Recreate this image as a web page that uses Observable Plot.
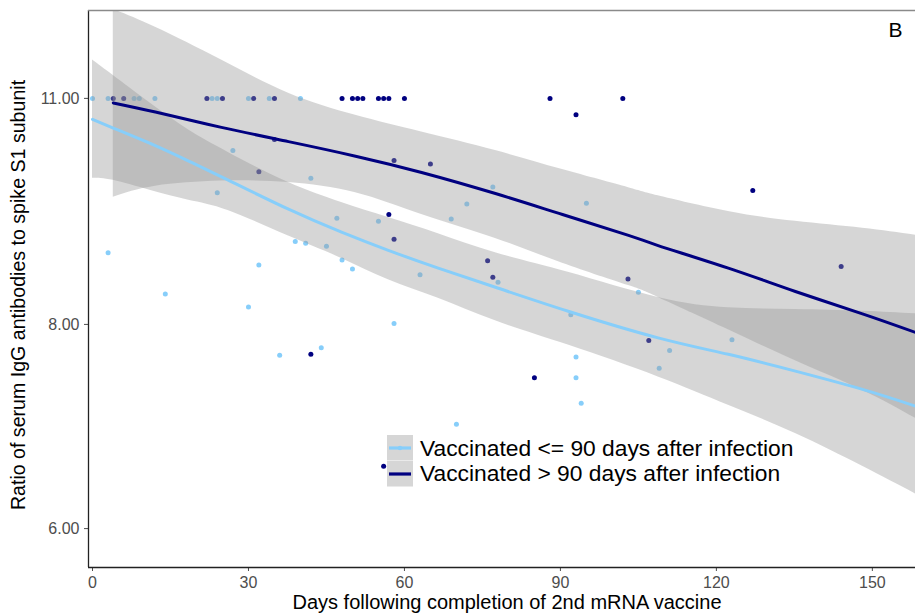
<!DOCTYPE html>
<html><head><meta charset="utf-8">
<script src="https://cdn.jsdelivr.net/npm/d3@7"></script>
<script src="https://cdn.jsdelivr.net/npm/@observablehq/plot@0.6"></script>
<style>body{margin:0;background:#fff} #chart{width:915px;height:614px}</style>
</head><body><div id="chart"></div>
<script>
// Series: Vaccinated <= 90 days after infection (light blue)
const lightDays   = [0,3,8,9,12,23,24,30,34,40, 3,14,24,27,30,32,36,39,41,42,44,45,47,48,50,55,58,63,69,70,72,77,78,92,93,93,94,95,105,109,111,123];
const lightValues = [11,11,11,11,11,11,11,11,11,11, 8.85,8.35,9.63,10.22,8.20,8.70,7.66,8.99,8.97,9.83,7.74,8.93,9.29,8.76,8.65,9.25,8.01,8.58,9.28,6.95,9.48,9.71,8.49,8.11,7.64,7.42,7.16,9.49,8.37,7.52,7.71,7.83];
// Series: Vaccinated > 90 days after infection (navy)
const darkDays   = [4,6,22,25,31,35,48,50,51,52,55,56,57,60,88,102, 93,127,144,32,35,58,65,57,58,76,77,103,107,85,42,56];
const darkValues = [11,11,11,11,11,11,11,11,11,11,11,11,11,11,11,11, 10.75,9.66,8.68,9.92,10.38,10.08,10.03,9.34,9.02,8.75,8.55,8.53,7.82,7.42,7.67,6.55];

// Smoothed fits with confidence bands
const lightFitDays = [0,4,11.2,18.5,26.2,37.7,47.9,56.9,66.5,77.5,91.5,108.8,122.3,135.2,148.1,158.3];
const lightFit     = [10.68,10.55,10.32,10.07,9.80,9.41,9.11,8.88,8.66,8.43,8.15,7.85,7.67,7.49,7.30,7.13];
const lightFitLo   = [9.83,9.80,9.66,9.53,9.39,9.06,8.78,8.52,8.30,8.04,7.77,7.43,7.14,6.86,6.55,6.30];
const lightFitHi   = [11.61,11.36,10.92,10.52,10.19,9.77,9.50,9.30,9.09,8.85,8.61,8.31,8.19,8.17,8.15,8.12];
const darkFitDays  = [4,12.1,24.8,37.7,50.6,63.3,77.5,90.4,103.1,108.8,122.3,135.2,148.1,158.3];
const darkFit      = [10.93,10.79,10.56,10.35,10.14,9.91,9.62,9.34,9.07,8.94,8.66,8.38,8.12,7.91];
const darkFitLo    = [9.57,9.72,9.79,9.77,9.63,9.34,9.03,8.72,8.45,8.31,7.94,7.60,7.29,7.01];
const darkFitHi    = [12.47,12.16,11.61,11.08,10.74,10.49,10.22,9.95,9.70,9.59,9.38,9.25,9.16,9.07];

const yTicks = [6, 8, 11];
const xTicks = [0, 30, 60, 90, 120, 150];
const seriesLabels = ["Vaccinated <= 90 days after infection", "Vaccinated > 90 days after infection"];
const seriesColors = ["#87CEFA", "#000080"];
const xTitle = "Days following completion of 2nd mRNA vaccine";
const yTitle = "Ratio of serum IgG antibodies to spike S1 subunit";
const panelTag = "B";

const lightPts = lightDays.map((d, i) => ({day: d, value: lightValues[i]}));
const darkPts = darkDays.map((d, i) => ({day: d, value: darkValues[i]}));
const lightFitT = lightFitDays.map((d, i) => ({day: d, fit: lightFit[i], lo: lightFitLo[i], hi: lightFitHi[i]}));
const darkFitT = darkFitDays.map((d, i) => ({day: d, fit: darkFit[i], lo: darkFitLo[i], hi: darkFitHi[i]}));

const xDomain = [-0.77, 158.3];
const yDomain = [5.68, 12.45];
const FONT = "'Liberation Sans', Arial, sans-serif";

const chart = Plot.plot({
  width: 915, height: 614,
  marginTop: 10, marginLeft: 88, marginRight: 0, marginBottom: 47,
  style: {fontFamily: FONT, background: "white", color: "#4d4d4d"},
  x: {domain: xDomain},
  y: {type: "log", domain: yDomain},
  marks: [
    Plot.dot(lightPts, {x: "day", y: "value", r: 2.5, fill: seriesColors[0], clip: true}),
    Plot.dot(darkPts, {x: "day", y: "value", r: 2.5, fill: seriesColors[1], clip: true}),
    Plot.areaY(lightFitT, {x: "day", y1: "lo", y2: "hi", fill: "#999999", fillOpacity: 0.4, curve: "natural", clip: true}),
    Plot.areaY(darkFitT, {x: "day", y1: "lo", y2: "hi", fill: "#999999", fillOpacity: 0.4, curve: "natural", clip: true}),
    Plot.line(lightFitT, {x: "day", y: "fit", stroke: seriesColors[0], strokeWidth: 3, curve: "natural", clip: true}),
    Plot.line(darkFitT, {x: "day", y: "fit", stroke: seriesColors[1], strokeWidth: 3, curve: "natural", clip: true}),
    Plot.axisX({ticks: xTicks, tickSize: 4, tickPadding: 5, fontSize: 16, label: null, color: "#4d4d4d"}),
    Plot.axisY({ticks: yTicks, tickFormat: d => d.toFixed(2), tickSize: 4, tickPadding: 5, fontSize: 16, label: null, color: "#4d4d4d"}),
    Plot.ruleX([xDomain[0]], {stroke: "#222", strokeWidth: 1.3}),
    Plot.ruleY([yDomain[0]], {stroke: "#222", strokeWidth: 1.3}),
    Plot.ruleY([yDomain[1]], {stroke: "#8a8a8a", strokeWidth: 1.6}),
    Plot.text([panelTag], {frameAnchor: "top-right", dx: -13, dy: 12, fontSize: 21, fill: "#000", textAnchor: "end", lineAnchor: "top"})
  ]
});
document.getElementById("chart").appendChild(chart);

const svg = d3.select(chart);
// axis titles
svg.append("text").attr("x", 507).attr("y", 609).attr("text-anchor", "middle")
  .style("font-family", FONT).style("font-size", "20px").attr("fill", "#000").text(xTitle);
svg.append("text").attr("transform", "translate(25,295) rotate(-90)").attr("text-anchor", "middle")
  .style("font-family", FONT).style("font-size", "19.6px").attr("fill", "#000").text(yTitle);

// legend
const lg = svg.append("g").attr("text-anchor", "start");
seriesLabels.forEach((lab, i) => {
  const y0 = 435 + i * 26;
  lg.append("rect").attr("x", 387).attr("y", y0).attr("width", 26).attr("height", 25.5).attr("fill", "#d6d6d6");
  lg.append("line").attr("x1", 389).attr("x2", 411).attr("y1", y0 + 13).attr("y2", y0 + 13)
    .attr("stroke", seriesColors[i]).attr("stroke-width", 3.2);
  if (i === 0) lg.append("circle").attr("cx", 400).attr("cy", y0 + 13).attr("r", 2.2).attr("fill", seriesColors[i]);
  lg.append("text").attr("x", 420).attr("y", 456 + i * 24.5).attr("text-anchor", "start")
    .style("font-family", FONT).style("font-size", "22.8px").attr("fill", "#000").text(lab);
});
</script>
</body></html>
